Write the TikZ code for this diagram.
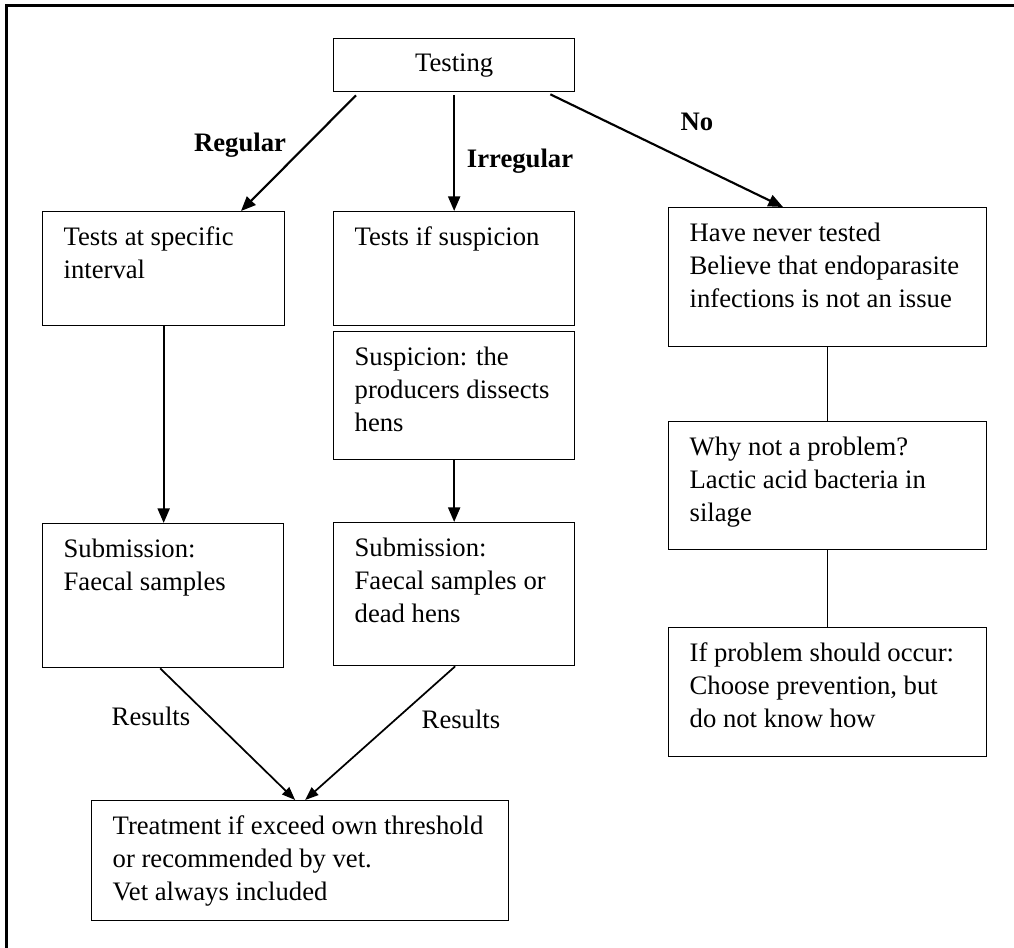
\documentclass[tikz,border=0pt]{standalone}
\usepackage{fontspec}
\setmainfont{Liberation Serif}
\usetikzlibrary{arrows.meta,calc}
\newlength\PX
\setlength\PX{0.75pt}
\newcommand\boxtext[3]{\parbox[b][#2\PX][t]{#1\PX}{\raggedright\leftskip=21\PX\relax\parindent=0pt\rule{0pt}{34\PX}#3\par}}
\tikzset{
  flowbox/.style={draw, line width=1pt, inner sep=0pt, anchor=north west, font=\fontsize{20}{24.75}\selectfont},
  arr/.style={line width=1.6pt, -{Triangle[length=11pt,width=9pt]}},
  resarr/.style={line width=1.3pt, -{Triangle[length=10pt,width=7.5pt]}},
  link/.style={line width=0.9pt},
  lbl/.style={font=\fontsize{20}{24}\selectfont, anchor=base, inner sep=0pt},
  blbl/.style={lbl, font=\bfseries\fontsize{20}{24}\selectfont}
}
\begin{document}
\begin{tikzpicture}[x=0.75pt,y=-0.75pt]
\useasboundingbox (0,0) rectangle (1014,947);
\draw[line width=2.25pt, line join=miter] (6.5,970) -- (6.5,5.8) -- (1040,5.8);

\node[flowbox, minimum width=241\PX, minimum height=53\PX] (test) at (333,38) {Testing};
\node[flowbox] (tsi) at (42,211) {\boxtext{242}{114}{Tests at specific\\interval}};
\node[flowbox] (tis) at (333,211) {\boxtext{241}{114}{Tests if suspicion}};
\node[flowbox] (susp) at (333,331) {\boxtext{241}{128}{Suspicion: the\\producers dissects\\hens}};
\node[flowbox] (subL) at (42,523) {\boxtext{241}{144}{Submission:\\Faecal samples}};
\node[flowbox] (subR) at (333,522) {\boxtext{241}{143}{Submission:\\Faecal samples or\\dead hens}};
\node[flowbox] (treat) at (91,800) {\boxtext{417}{120}{Treatment if exceed own threshold\\or recommended by vet.\\Vet always included}};
\node[flowbox] (never) at (668,207) {\boxtext{318}{139}{Have never tested\\Believe that endoparasite\\infections is not an issue}};
\node[flowbox] (why) at (668,421) {\boxtext{318}{128}{Why not a problem?\\Lactic acid bacteria in\\silage}};
\node[flowbox] (ifp) at (668,627) {\boxtext{318}{129}{If problem should occur:\\Choose prevention, but\\do not know how}};

\draw[arr] ($(test.south west)+(23,3)$) -- ($(tsi.north west)+(199,0)$);
\draw[arr] ($(test.south)+(0,3)$) -- (tis.north);
\draw[arr] ($(test.south east)+(-25,2)$) -- ($(never.north west)+(115,0)$);
\draw[arr] (tsi.south) -- (tsi.south |- subL.north);
\draw[arr] (susp.south) -- (susp.south |- subR.north);
\draw[resarr] ($(subL.south)+(-3,0)$) -- ($(treat.north)+(-5,0)$);
\draw[resarr] ($(subR.south)+(1,0)$) -- ($(treat.north)+(5,0)$);
\draw[link] (never.south) -- (why.north);
\draw[link] (why.south) -- (ifp.north);

\node[blbl] (lreg) at (240,151) {Regular};
\node[blbl] (lirr) at (520,167) {Irregular};
\node[blbl] (lno) at (697,130) {No};
\node[lbl] (lres1) at (151,725) {Results};
\node[lbl] (lres2) at (461,728) {Results};
\end{tikzpicture}
\end{document}
